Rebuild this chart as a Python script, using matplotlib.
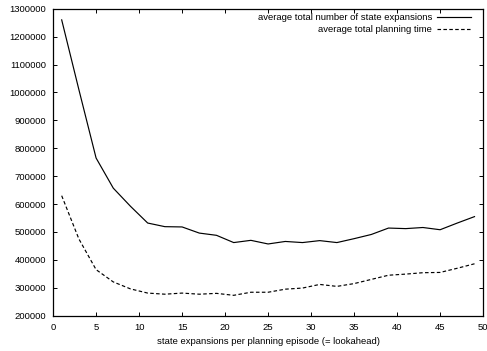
import matplotlib
matplotlib.use('Agg')
import matplotlib.pyplot as plt
import numpy as np

lookahead = [1, 3, 5, 7, 9, 11, 13, 15, 17, 19, 21, 23, 25,
             27, 29, 31, 33, 35, 37, 39, 41, 43, 45, 47, 49]
expansions = [1260000, 1010000, 765000, 657000, 592000, 532000, 519000, 518000,
              496000, 488000, 462000, 470000, 457000, 466000, 462000, 469000,
              462000, 476000, 491000, 514000, 512000, 516000, 508000, 532000, 555000]
planning_time = [630000, 475000, 365000, 321000, 296000, 281000, 277000, 281000,
                 277000, 280000, 273000, 284000, 284000, 295000, 299000, 312000,
                 305000, 315000, 330000, 345000, 349000, 354000, 355000, 370000, 386000]

x_ticks = [0, 5, 10, 15, 20, 25, 30, 35, 40, 45, 50]
y_ticks = [200000, 300000, 400000, 500000, 600000, 700000, 800000,
           900000, 1000000, 1100000, 1200000, 1300000]

plt.rcParams['font.family'] = ['Liberation Sans', 'DejaVu Sans']
plt.rcParams['font.size'] = 6.8

fig = plt.figure(figsize=(4.87, 3.51), dpi=100)
ax = fig.add_axes([0.109, 0.1006, 0.883, 0.8746])

ax.plot(lookahead, expansions, color='black', lw=0.85,
        label='average total number of state expansions')
ax.plot(lookahead, planning_time, color='black', lw=0.85, linestyle=(0, (3, 2)),
        label='average total planning time')

ax.set_xlim(0, 50)
ax.set_ylim(200000, 1300000)
ax.set_xticks(x_ticks)
ax.set_yticks(y_ticks)
ax.set_yticklabels([str(v) for v in y_ticks])
ax.tick_params(direction='in', length=3, width=0.7, top=True, right=True, pad=5)
for s in ax.spines.values():
    s.set_linewidth(0.9)

ax.set_xlabel('state expansions per planning episode (= lookahead)', labelpad=4)

# legend sits inside, right-aligned text with the line sample after it
leg = ax.legend(loc='upper right', bbox_to_anchor=(0.972, 0.986),
                markerfirst=False, frameon=False,
                handlelength=3.6, handletextpad=0.5, labelspacing=0.3,
                borderaxespad=0, borderpad=0)

fig.savefig('out.png', dpi=100)
